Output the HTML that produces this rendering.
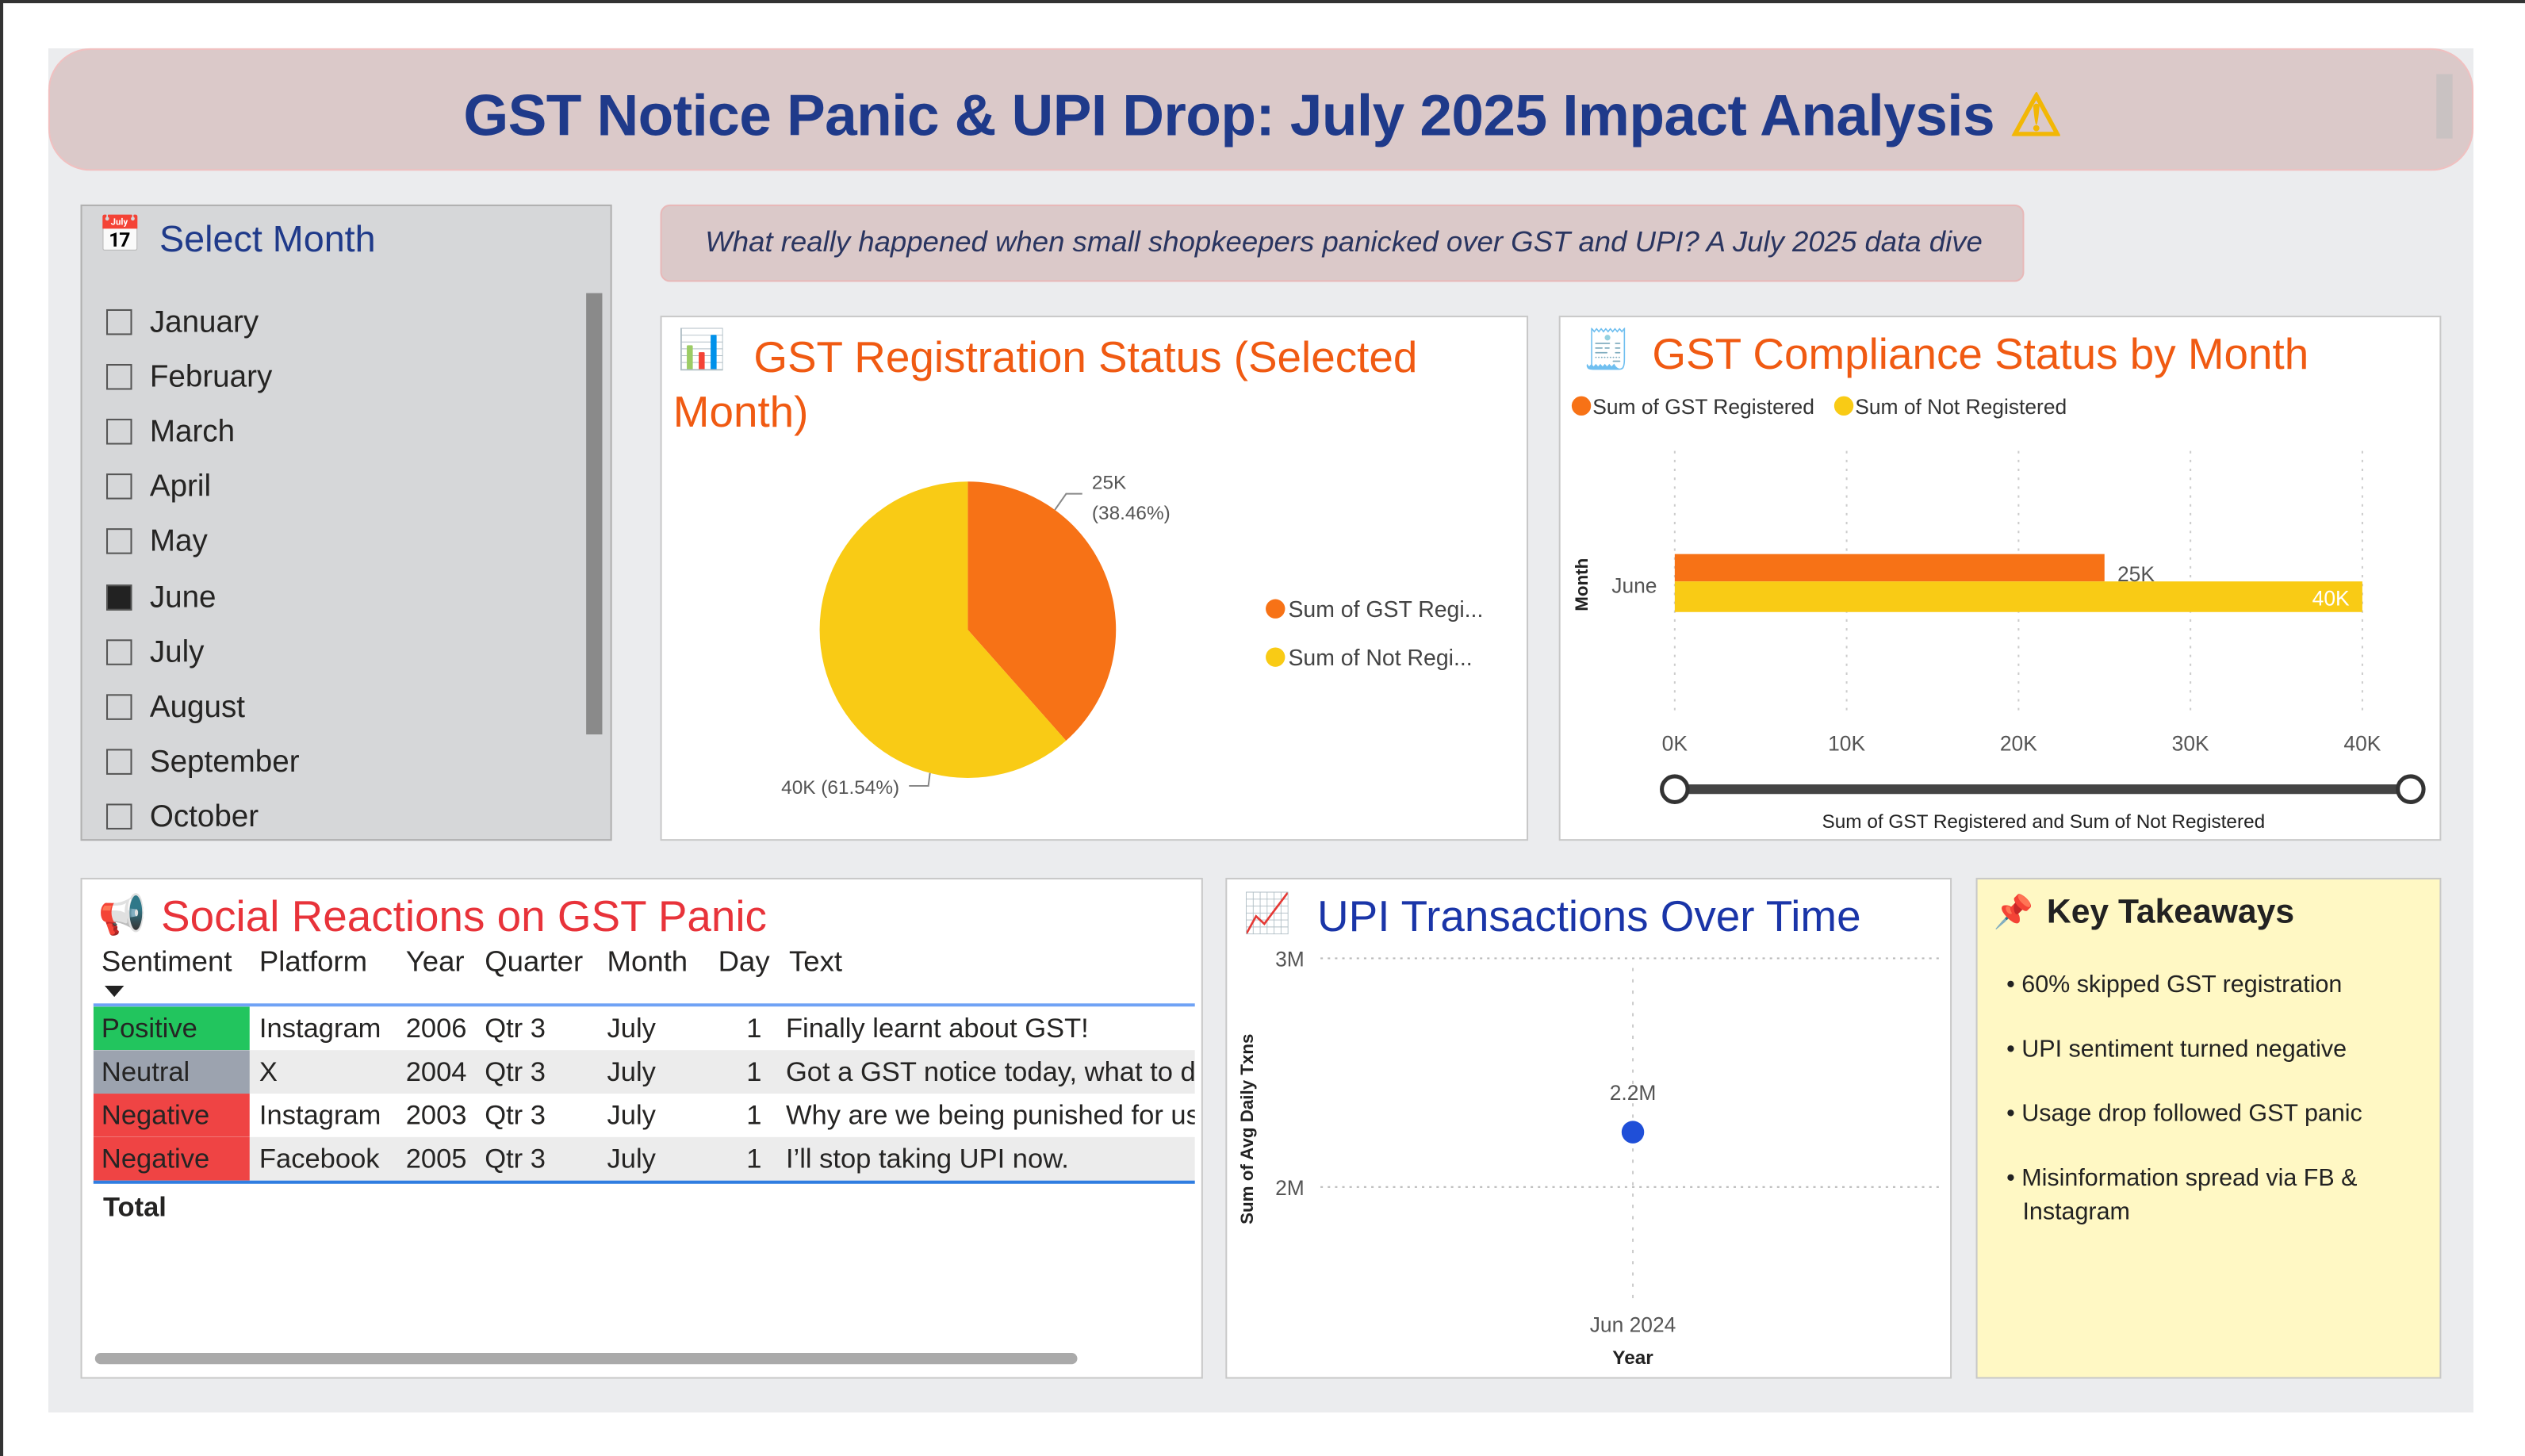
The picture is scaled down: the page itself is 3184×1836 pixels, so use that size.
<!DOCTYPE html>
<html><head><meta charset="utf-8">
<style>
html,body{margin:0;padding:0;width:3184px;height:1836px;overflow:hidden;background:#fff;}
#w{position:absolute;left:0;top:0;width:1568px;height:904px;transform:scale(2.03061,2.03097);transform-origin:0 0;font-family:"Liberation Sans",sans-serif;color:#252423;}
.abs{position:absolute;}
.card{position:absolute;background:#fff;border:1px solid #c8c8c8;box-sizing:border-box;}
.n{font-family:"Liberation Sans Narrow","Liberation Sans",sans-serif;}
</style></head><body>
<div id="w">
<div class="abs" style="left:0;top:0;width:2px;height:904px;background:#333"></div>
<div class="abs" style="left:0;top:0;width:1568px;height:2px;background:#333"></div>
<div class="abs" style="left:30px;top:30px;width:1506px;height:847px;background:#ebecee"></div>

<div class="abs" style="left:30px;top:30px;width:1506px;height:76px;background:#dbc9c9;border:1px solid #f0c0c0;box-sizing:border-box;border-radius:26px">
 <div class="abs" style="left:0;width:1506px;top:20px;text-align:center;font-size:36px;font-weight:bold;color:#1f3a8a;letter-spacing:-0.3px">GST Notice Panic &amp; UPI Drop: July 2025 Impact Analysis <span style="color:#f2b705">⚠</span></div>
 <div class="abs" style="left:1482px;top:15px;width:10px;height:40px;background:#c9c2c2"></div>
</div>

<div class="abs" style="left:50px;top:127px;width:330px;height:395px;background:#d6d7d9;border:1px solid #b0b0b0;box-sizing:border-box">
 <div class="abs" style="left:10px;top:5px;font-size:22px">📅</div>
 <div class="abs" style="left:48px;top:7px;font-size:23px;color:#1f3a8a">Select Month</div>
 <div class="abs" style="left:313px;top:54px;width:10px;height:274px;background:#8a8a8a"></div>
 <div id="months"></div>
</div>

<div class="abs" style="left:410px;top:127px;width:847px;height:48px;background:#dbc9c9;border:1px solid #e8b8b8;box-sizing:border-box;border-radius:6px">
 <div class="abs" style="left:0;width:847px;top:12px;text-align:center;font-size:18px;font-style:italic;color:#2a3560">What really happened when small shopkeepers panicked over GST and UPI? A July 2025 data dive</div>
</div>

<div class="card" style="left:410px;top:196px;width:539px;height:326px">
 <div class="abs" style="left:10px;top:6px;font-size:24px">📊</div>
 <div class="abs n" style="left:7px;top:8px;width:520px;font-size:27px;line-height:34px;color:#f05a12;text-indent:50px">GST Registration Status (Selected Month)</div>
 <svg id="pie" class="abs" style="left:0;top:0" width="539" height="326"></svg>
</div>

<div class="card" style="left:968px;top:196px;width:548px;height:326px">
 <div class="abs" style="left:14px;top:6px;font-size:24px">🧾</div>
 <div class="abs n" style="left:57px;top:8px;font-size:27px;color:#f05a12">GST Compliance Status by Month</div>
 <svg id="bar" class="abs" style="left:0;top:0" width="548" height="326"></svg>
</div>

<div class="card" style="left:50px;top:545px;width:697px;height:311px">
 <div class="abs" style="left:10px;top:8px;font-size:24px">📢</div>
 <div class="abs n" style="left:49px;top:8px;font-size:27px;color:#e8333a">Social Reactions on GST Panic</div>
 <div id="tbl"></div>
 <div class="abs" style="left:8px;top:294px;width:610px;height:7px;border-radius:4px;background:#aaa"></div>
</div>

<div class="card" style="left:761px;top:545px;width:451px;height:311px">
 <div class="abs" style="left:10px;top:7px;font-size:24px">📈</div>
 <div class="abs n" style="left:56px;top:8px;font-size:27px;color:#1a35a8">UPI Transactions Over Time</div>
 <svg id="upi" class="abs" style="left:0;top:0" width="451" height="311"></svg>
</div>

<div class="card" style="left:1227px;top:545px;width:289px;height:311px;background:#fff8c4">
 <div class="abs" style="left:10px;top:8px;font-size:20px">📌</div>
 <div class="abs" style="left:43px;top:9px;font-size:21px;font-weight:bold;color:#222">Key Takeaways</div>
 <div class="abs" style="left:18px;top:55px;width:260px;font-size:15px;color:#222;line-height:21px">
  <div style="margin-bottom:19px">• 60% skipped GST registration</div>
  <div style="margin-bottom:19px">• UPI sentiment turned negative</div>
  <div style="margin-bottom:19px">• Usage drop followed GST panic</div>
  <div style="padding-left:10px;text-indent:-10px">• Misinformation spread via FB &amp; Instagram</div>
 </div>
</div>
</div>

<script>
// ---------- data ----------
const months = ["January","February","March","April","May","June","July","August","September","October"];
const selectedMonth = "June";
const pieLabels = ["Sum of GST Regi...","Sum of Not Regi..."];
const pieValues = [25000, 40000];
const pieColors = ["#f77216","#f9cb15"];
const barCategories = ["June"];
const barGst = [25000];
const barNot = [40000];
const barTicks = [0,10000,20000,30000,40000];
const upiCategories = ["Jun 2024"];
const upiValues = [2240000];
const upiTicks = [2000000,3000000];
const tblHeaders = ["Sentiment","Platform","Year","Quarter","Month","Day","Text"];
const tblSentiment = ["Positive","Neutral","Negative","Negative"];
const tblPlatform = ["Instagram","X","Instagram","Facebook"];
const tblYear = ["2006","2004","2003","2005"];
const tblQuarter = ["Qtr 3","Qtr 3","Qtr 3","Qtr 3"];
const tblMonth = ["July","July","July","July"];
const tblDay = ["1","1","1","1"];
const tblText = ["Finally learnt about GST!","Got a GST notice today, what to do?","Why are we being punished for using UPI?","I’ll stop taking UPI now."];

const NS="http://www.w3.org/2000/svg";
function sv(parent,tag,attrs,text){const e=document.createElementNS(NS,tag);for(const k in attrs)e.setAttribute(k,attrs[k]);if(text!==undefined)e.textContent=text;parent.appendChild(e);return e;}
function fmtK(v){return Math.round(v/1000)+"K";}

// ---------- slicer ----------
const mc=document.getElementById('months');
months.forEach((m,i)=>{
 const row=document.createElement('div');
 row.className='abs';
 row.style.cssText='left:15px;top:'+(62+i*34.1)+'px;height:20px;font-size:19px;color:#252423';
 
 
 const sel=m===selectedMonth;
 row.innerHTML='<span style="display:inline-block;width:16px;height:16px;border:1px solid #555;box-sizing:border-box;vertical-align:-2px;margin-right:11px;background:'+(sel?'#222':'transparent')+'"></span>'+m;
 mc.appendChild(row);
});

// ---------- pie ----------
(function(){
 const s=document.getElementById('pie');
 const cx=190,cy=194,r=92;
 const total=pieValues.reduce((a,b)=>a+b,0);
 let a0=-Math.PI/2;
 pieValues.forEach((v,i)=>{
  const a1=a0+v/total*2*Math.PI;
  const large=(a1-a0)>Math.PI?1:0;
  const p=sv(s,'path',{d:`M${cx},${cy}L${cx+r*Math.cos(a0)},${cy+r*Math.sin(a0)}A${r},${r} 0 ${large} 1 ${cx+r*Math.cos(a1)},${cy+r*Math.sin(a1)}Z`,fill:pieColors[i]});
  
  
  const am=(a0+a1)/2;
  const pct=(v/total*100).toFixed(2)+"%";
  if(Math.cos(am)>0){
   const aa=a0+0.26*(a1-a0);
   const px=cx+r*Math.cos(aa), py=cy+r*Math.sin(aa);
   sv(s,'polyline',{points:`${px},${py} ${px+7},${py-10} ${px+17},${py-10}`,fill:'none',stroke:'#888'});
   const lx=px+23, ly=py-13;
   const t1=sv(s,'text',{x:lx,y:ly,'font-size':12,fill:'#555'},fmtK(v));
   
   const t2=sv(s,'text',{x:lx,y:ly+19,'font-size':12,fill:'#555'},'('+pct+')');
   
  } else {
   const aa=am-0.95;
   const bx=cx+r*Math.cos(aa), by=cy+r*Math.sin(aa);
   sv(s,'polyline',{points:`${bx},${by} ${bx-1},${by+8} ${bx-13},${by+8}`,fill:'none',stroke:'#888'});
   const t=sv(s,'text',{x:bx-19,y:by+13,'font-size':12,fill:'#555','text-anchor':'end'},fmtK(v)+' ('+pct+')');
   
  }
  a0=a1;
 });
 pieLabels.forEach((l,i)=>{
  const c=sv(s,'circle',{cx:381,cy:181+i*30,r:6,fill:pieColors[i]});
  
  const t=sv(s,'text',{x:389,y:186+i*30,'font-size':14,fill:'#444'},l);
  
 });
})();

// ---------- bar ----------
(function(){
 const s=document.getElementById('bar');
 const x0=71,x1=498,xmax=40000;
 const X=v=>x0+(x1-x0)*v/xmax;
 [["Sum of GST Registered","#f77216",13],["Sum of Not Registered","#f9cb15",176]].forEach((l,i)=>{
  const c=sv(s,'circle',{cx:l[2],cy:55,r:6,fill:l[1]});
  
  const t=sv(s,'text',{x:l[2]+7,y:60,'font-size':13,fill:'#333'},l[0]);
  
 });
 barTicks.forEach(v=>{
  const g=sv(s,'line',{x1:X(v),x2:X(v),y1:83,y2:245,stroke:'#ccc','stroke-dasharray':'1.5 4'});
  
  const t=sv(s,'text',{x:X(v),y:269,'font-size':13,fill:'#555','text-anchor':'middle'},fmtK(v));
  
 });
 const yt=sv(s,'text',{x:0,y:0,'font-size':11,'font-weight':'bold',fill:'#222','text-anchor':'middle',transform:'translate(17,166) rotate(-90)'},'Month');
 
 barCategories.forEach((c,i)=>{
  const yc=166+i*60;
  const t=sv(s,'text',{x:60,y:yc+5,'font-size':13,fill:'#555','text-anchor':'end'},c);
  
  const b1=sv(s,'rect',{x:X(0),y:yc-19,width:X(barGst[i])-X(0),height:17,fill:'#f77216'});
  
  const b2=sv(s,'rect',{x:X(0),y:yc-2,width:X(barNot[i])-X(0),height:19,fill:'#f9cb15'});
  
  const l1=sv(s,'text',{x:X(barGst[i])+8,y:yc-2,'font-size':13,fill:'#555'},fmtK(barGst[i]));
  
  const l2=sv(s,'text',{x:X(barNot[i])-8,y:yc+13,'font-size':13,fill:'#fff','text-anchor':'end'},fmtK(barNot[i]));
  
 });
 const sl=sv(s,'line',{x1:71,x2:528,y1:293,y2:293,stroke:'#444','stroke-width':6});
 
 [71,528].forEach((x,i)=>{const c=sv(s,'circle',{cx:x,cy:293,r:8,fill:'#fff',stroke:'#333','stroke-width':2.5});
  });
 const xt=sv(s,'text',{x:300,y:317,'font-size':12,fill:'#222','text-anchor':'middle'},'Sum of GST Registered and Sum of Not Registered');
 
})();

// ---------- table ----------
(function(){
 const t=document.getElementById('tbl');
 const colX=[12,110,201,250,326,395,439];
 const hdr=document.createElement('div');hdr.className='abs';hdr.style.cssText='left:0;top:41px;width:697px;height:24px;font-size:18px;color:#252423';
 
 tblHeaders.forEach((h,i)=>{const d=document.createElement('div');d.className='abs';d.style.left=colX[i]+'px';d.textContent=h;
  hdr.appendChild(d);});
 t.appendChild(hdr);
 const arrow=document.createElement('div');arrow.className='abs';arrow.style.cssText='left:14px;top:66px;width:0;height:0;border-left:6px solid transparent;border-right:6px solid transparent;border-top:7px solid #222';
 t.appendChild(arrow);
 const line1=document.createElement('div');line1.className='abs';line1.style.cssText='left:7px;top:77px;width:684px;height:2px;background:#6fa2f5';
 t.appendChild(line1);
 const sc={Positive:'#22c55e',Neutral:'#9ca3af',Negative:'#ef4444'};
 tblSentiment.forEach((sn,i)=>{
  const r=document.createElement('div');r.className='abs';
  r.style.cssText='left:7px;top:'+(79+i*27)+'px;width:684px;height:27px;overflow:hidden;white-space:nowrap;font-size:17px;line-height:27px;background:'+(i%2?'#ececec':'#fff');
  
  const vals=[sn,tblPlatform[i],tblYear[i],tblQuarter[i],tblMonth[i],tblDay[i],tblText[i]];
  vals.forEach((v,j)=>{const c=document.createElement('div');c.className='abs';
   if(j===0){c.style.cssText='left:0;top:0;width:97px;height:27px;padding-left:5px;box-sizing:border-box;background:'+sc[sn];}
   else if(j===5){c.style.cssText='left:'+(colX[j]-7)+'px;width:27px;text-align:right';}
   else c.style.left=(colX[j]-7+(j===6?-2:0))+'px';
   c.textContent=v;
   
   r.appendChild(c);});
  t.appendChild(r);
 });
 const line2=document.createElement('div');line2.className='abs';line2.style.cssText='left:7px;top:'+(79+tblSentiment.length*27)+'px;width:684px;height:2px;background:#2f7de1';
 t.appendChild(line2);
 const tot=document.createElement('div');tot.className='abs';tot.style.cssText='left:13px;top:'+(86+tblSentiment.length*27)+'px;font-size:17px;font-weight:bold';tot.textContent='Total';
 t.appendChild(tot);
})();

// ---------- upi ----------
(function(){
 const s=document.getElementById('upi');
 const y2=191,y3=49;
 const Y=v=>y2+(y3-y2)*(v-2000000)/1000000;
 const xc=252;
 upiTicks.forEach(v=>{
  const g=sv(s,'line',{x1:58,x2:443,y1:Y(v),y2:Y(v),stroke:'#bbb','stroke-dasharray':'1.5 3'});
  
  const t=sv(s,'text',{x:48,y:Y(v)+5,'font-size':13,fill:'#555','text-anchor':'end'},(v/1e6)+'M');
  
 });
 const vg=sv(s,'line',{x1:xc,x2:xc,y1:55,y2:262,stroke:'#ccc','stroke-dasharray':'2 5'});
 
 upiCategories.forEach((c,i)=>{
  const t=sv(s,'text',{x:xc,y:281,'font-size':13,fill:'#555','text-anchor':'middle'},c);
  
  const p=sv(s,'circle',{cx:xc,cy:Y(upiValues[i]),r:7,fill:'#1f4fd8'});
  
  const l=sv(s,'text',{x:xc,y:Y(upiValues[i])-20,'font-size':13,fill:'#555','text-anchor':'middle'},(upiValues[i]/1e6).toFixed(1)+'M');
  
 });
 const xt=sv(s,'text',{x:xc,y:301,'font-size':12,fill:'#222','font-weight':'bold','text-anchor':'middle'},'Year');
 
 const yt=sv(s,'text',{x:0,y:0,'font-size':11,fill:'#222','font-weight':'bold','text-anchor':'middle',transform:'translate(16,155) rotate(-90)'},'Sum of Avg Daily Txns');
 
})();
</script>
</body></html>
